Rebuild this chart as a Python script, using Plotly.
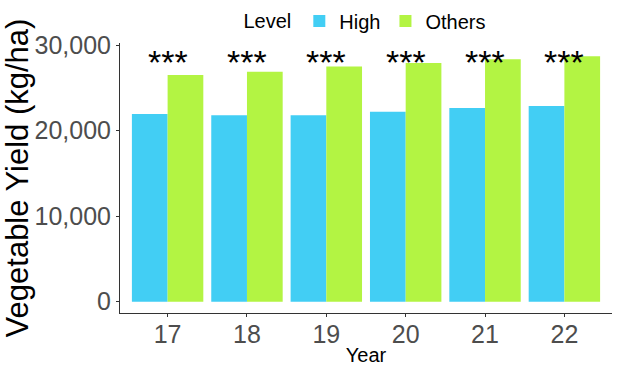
import plotly.graph_objects as go

years = ["17", "18", "19", "20", "21", "22"]
high = [21950, 21800, 21800, 22200, 22650, 22880]
others = [26500, 26900, 27500, 27900, 28350, 28700]
sig = ["***", "***", "***", "***", "***", "***"]
sig_y = 28000

FONT = "Liberation Sans, Arial, sans-serif"

fig = go.Figure()
fig.add_trace(go.Bar(x=years, y=high, name="High", marker_color="#42CEF4", marker_line_width=0))
fig.add_trace(go.Bar(x=years, y=others, name="Others", marker_color="#B3F443", marker_line_width=0))

for i, s in enumerate(sig):
    fig.add_annotation(x=i, y=sig_y, xref="x", yref="y", text=s, showarrow=False,
                       xanchor="center", yanchor="middle",
                       font=dict(family=FONT, size=34, color="black"))

fig.update_layout(
    width=617, height=370,
    margin=dict(l=120, r=5, t=43, b=57),
    paper_bgcolor="white", plot_bgcolor="white",
    barmode="group", bargap=0.1, bargroupgap=0,
    font=dict(family=FONT),
    legend=dict(orientation="h", x=0.5, xref="paper", xanchor="center", y=1 - 21 / 370, yref="container",
                yanchor="middle",
                title=dict(text="Level", font=dict(size=20, color="black")),
                font=dict(size=20, color="black"), itemwidth=30, tracegroupgap=0),
    xaxis=dict(type="category", range=[-0.6, 5.6], showline=True, linecolor="#333333", linewidth=1,
               ticks="outside", ticklen=3, tickcolor="#333333", tickfont=dict(size=25, color="#4D4D4D"),
               ticklabelstandoff=-4,
               title=dict(text="Year", font=dict(size=20, color="black"), standoff=0), showgrid=False,
               automargin=False),
    yaxis=dict(range=[-1320, 30250], showline=True, linecolor="#333333", linewidth=1, ticks="outside", ticklen=3,
               tickcolor="#333333", tickvals=[0, 10000, 20000, 30000], ticktext=["0", "10,000", "20,000", "30,000"],
               tickfont=dict(size=25, color="#4D4D4D"),
               title=dict(text="Vegetable Yield (kg/ha)", font=dict(size=31, color="black"), standoff=8),
               showgrid=False, zeroline=False, automargin=False),
)

fig.write_html("out.html")
